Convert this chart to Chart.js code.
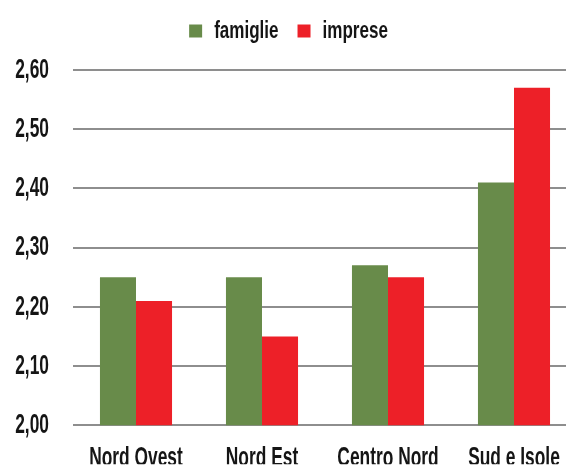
<!DOCTYPE html>
<html>
<head>
<meta charset="utf-8">
<script src="https://cdn.jsdelivr.net/npm/chart.js@4"></script>
<style>
  html, body { margin: 0; padding: 0; overflow: hidden; background: #fff; }
  #wrap { width: 580px; height: 466px; }
</style>
</head>
<body>
<div id="wrap"><canvas id="myChart"></canvas></div>
<script>
const categories = ["Nord Ovest", "Nord Est", "Centro Nord", "Sud e Isole"];
const famiglie = [2.25, 2.25, 2.27, 2.41];
const imprese = [2.21, 2.15, 2.25, 2.57];

const FONT = "'Liberation Sans', Arial, sans-serif";
const AXIS_SIZE = 28;
const LEGEND_SIZE = 24;

// horizontal squeeze per font size, gives the tall narrow lettering
const squeeze = { [AXIS_SIZE]: 0.62, [LEGEND_SIZE]: 0.71 };

const narrowText = {
  id: "narrowText",
  beforeInit(chart) {
    const ctx = chart.ctx;
    const fill = ctx.fillText.bind(ctx);
    const measure = ctx.measureText.bind(ctx);
    const factor = () => {
      const m = /(\d+)px/.exec(ctx.font);
      return (m && squeeze[+m[1]]) || 1;
    };
    ctx.fillText = (text, x, y, maxWidth) => {
      const k = factor();
      ctx.save();
      ctx.translate(x, y);
      ctx.scale(k, 1);
      fill(text, 0, 0);
      ctx.restore();
    };
    ctx.measureText = (text) => {
      const m = measure(text);
      return { width: m.width * factor(), actualBoundingBoxAscent: m.actualBoundingBoxAscent, actualBoundingBoxDescent: m.actualBoundingBoxDescent };
    };
  },
  beforeLayout(chart) {
    const legend = chart.legend;
    if (legend && !legend._fixed) {
      const fit = legend.fit.bind(legend);
      legend.fit = function () {
        fit();
        this.height = 70;
      };
      legend._fixed = true;
    }
  },
};

const printChart = () => {
  const ctx = document.getElementById("myChart").getContext("2d");
  myChart = new Chart(ctx, {
    type: "bar",
    data: {
      labels: categories,
      datasets: [
        {
          label: "famiglie",
          data: famiglie,
          backgroundColor: "#688b4a",
          borderWidth: 0,
        },
        {
          label: "imprese",
          data: imprese,
          backgroundColor: "#ed2028",
          borderWidth: 0,
        },
      ],
    },
    plugins: [narrowText],
    options: {
      responsive: true,
      maintainAspectRatio: false,
      animation: false,
      layout: { padding: { top: 0, right: 3, left: 0, bottom: 0 } },
      datasets: {
        bar: { categoryPercentage: 0.572, barPercentage: 1 },
      },
      plugins: {
        tooltip: { enabled: false },
        legend: {
          position: "top",
          labels: {
            boxWidth: 13,
            boxHeight: 13,
            padding: 19,
            color: "#151515",
            font: { family: FONT, size: LEGEND_SIZE, weight: "bold" },
          },
        },
      },
      scales: {
        x: {
          grid: { display: false },
          border: { display: false },
          ticks: {
            color: "#151515",
            font: { family: FONT, size: AXIS_SIZE, weight: "bold" },
            padding: 8,
            maxRotation: 0,
            autoSkip: false,
          },
          afterFit: (scale) => { scale.height = 39; },
        },
        y: {
          min: 2.0,
          max: 2.6,
          border: { display: false },
          grid: { color: "#8e8e8e", lineWidth: 2, drawTicks: false },
          ticks: {
            stepSize: 0.1,
            padding: 24,
            color: "#151515",
            font: { family: FONT, size: AXIS_SIZE, weight: "bold" },
            callback: (v) => v.toFixed(2).replace(".", ","),
          },
          afterFit: (scale) => { scale.width = 73; },
        },
      },
    },
  });
};

printChart();
</script>
</body>
</html>
